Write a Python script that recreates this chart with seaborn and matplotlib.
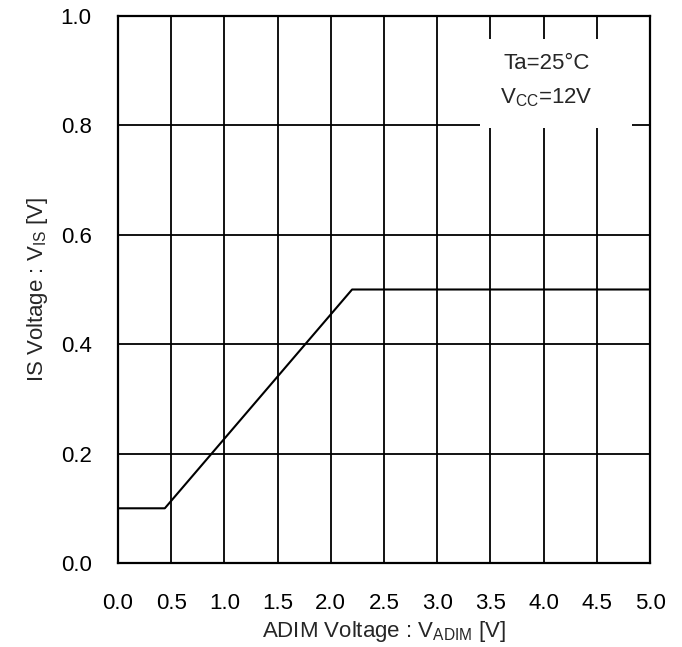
import matplotlib
matplotlib.use("Agg")
import matplotlib.pyplot as plt
from matplotlib.patches import Rectangle
import seaborn as sns
import pandas as pd

# curve corner points
adim_v = [0.0, 0.44, 2.2, 5.0]
is_v = [0.1, 0.1, 0.5, 0.5]

x_ticks = [0.0, 0.5, 1.0, 1.5, 2.0, 2.5, 3.0, 3.5, 4.0, 4.5, 5.0]
y_ticks = [0.0, 0.2, 0.4, 0.6, 0.8, 1.0]

sns.set_style("white")
plt.rcParams['font.family'] = ['Liberation Sans', 'DejaVu Sans']
plt.rcParams['mathtext.fontset'] = 'custom'
plt.rcParams['mathtext.rm'] = 'Liberation Sans'
plt.rcParams['mathtext.it'] = 'Liberation Sans'

df = pd.DataFrame({'adim': adim_v, 'is': is_v})

fig = plt.figure(figsize=(6.82, 6.47), dpi=100)
ax = fig.add_axes([118 / 682, 1 - 563 / 647, 532 / 682, 547 / 647])

sns.lineplot(data=df, x='adim', y='is', ax=ax, color='black', linewidth=1.5, zorder=3)

ax.set_xlim(0, 5)
ax.set_ylim(0, 1)
ax.set_xticks(x_ticks)
ax.set_yticks(y_ticks)
ax.set_xticklabels([f"{v:.1f}" for v in x_ticks])
ax.set_yticklabels([f"{v:.1f}" for v in y_ticks])
ax.tick_params(axis='both', length=0, labelsize=16, colors='black')
ax.tick_params(axis='x', pad=21.5)
ax.tick_params(axis='y', pad=19)
ax.grid(True, color='black', linewidth=1.3)
ax.set_axisbelow(True)
for s in ax.spines.values():
    s.set_color('black')
    s.set_linewidth(1.6)
    s.set_zorder(5)

ax.set_xlabel(r'ADIM Voltage : V$_{\mathrm{ADIM}}$ [V]', fontsize=16, labelpad=4)
ax.set_ylabel(r'IS Voltage : V$_{\mathrm{IS}}$ [V]', fontsize=16, labelpad=8)

# white box behind the conditions text
ax.add_patch(Rectangle((3.40, 0.795), 1.43, 0.163, facecolor='white',
                       edgecolor='none', zorder=2))
ax.text(4.03, 0.914, 'Ta=25°C', ha='center', va='center', fontsize=16, zorder=4)
ax.text(4.03, 0.851, r'V$_{\mathrm{CC}}$=12V', ha='center', va='center', fontsize=16, zorder=4)

fig.savefig('out.png', dpi=100)
